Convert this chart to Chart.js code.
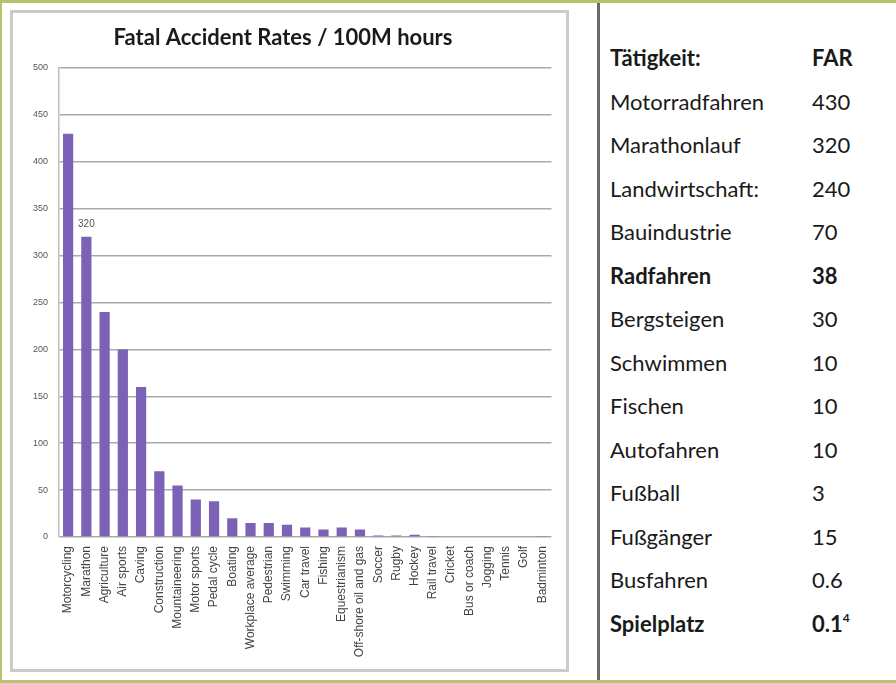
<!DOCTYPE html>
<html>
<head>
<meta charset="utf-8">
<script src="https://cdn.jsdelivr.net/npm/chart.js@4"></script>
<style>
  html, body { margin: 0; padding: 0; background: #fff; }
  #page {
    position: relative; width: 896px; height: 683px; overflow: hidden;
    box-sizing: border-box; border-top: 3px solid #b4c36c; border-left: 2px solid #b4c36c; border-bottom: 3px solid #b4c36c;
  }
  #chart-box {
    position: absolute; left: 8px; top: 7px; width: 559px; height: 662px;
    box-sizing: border-box; border: 3px solid #cbcbcb; background: #fff;
  }
  #chart-box canvas { position: absolute; left: 0; top: 0; }
  #divider { position: absolute; left: 595px; top: 0; width: 3px; height: 683px; background: #6a6a6a; }
  .row { position: absolute; font-family: Lato, "Open Sans", sans-serif; font-size: 22px; color: #1a1a1a; line-height: 26px; }
  .row.bold { font-weight: bold; }
  .row sup { font-size: 12px; vertical-align: 10px; line-height: 0; }
</style>
</head>
<body>
<div id="page">
  <div id="chart-box"><canvas id="far-chart" width="553" height="656"></canvas></div>
  <div id="divider"></div>
  <div id="table"></div>
</div>
<script>
// chart data
const CATEGORIES = ['Motorcycling', 'Marathon', 'Agriculture', 'Air sports', 'Caving', 'Construction',
  'Mountaineering', 'Motor sports', 'Pedal cycle', 'Boating', 'Workplace average', 'Pedestrian',
  'Swimming', 'Car travel', 'Fishing', 'Equestrianism', 'Off-shore oil and gas', 'Soccer', 'Rugby',
  'Hockey', 'Rail travel', 'Cricket', 'Bus or coach', 'Jogging', 'Tennis', 'Golf', 'Badminton'];
const RATES = [430, 320, 240, 200, 160, 70, 55, 40, 38, 20, 15, 15, 13, 10, 8, 10, 8, 1.5, 1.5,
  2.5, 1, 0, 0, 0, 0, 0, 1];
const LABELED = [1];
const Y_MIN = 0, Y_MAX = 500, Y_STEP = 50;

// table data
const TABLE_HEAD = ['Tätigkeit:', 'FAR'];
const ACTIVITIES = ['Motorradfahren', 'Marathonlauf', 'Landwirtschaft:', 'Bauindustrie', 'Radfahren',
  'Bergsteigen', 'Schwimmen', 'Fischen', 'Autofahren', 'Fußball', 'Fußgänger', 'Busfahren', 'Spielplatz'];
const FAR_VALUES = ['430', '320', '240', '70', '38', '30', '10', '10', '10', '3', '15', '0.6', '0.1'];
const FAR_NOTES = { 12: '4' };
const BOLD_ROWS = [4, 12];

const BAR_COLOR = '#7b62b7';
const TEXT_GRAY = '#555';

// ─── value labels above selected bars ───────────────
const barLabels = {
  id: 'barLabels',
  afterDatasetsDraw(chart) {
    const { ctx } = chart;
    const meta = chart.getDatasetMeta(0);
    ctx.save();
    ctx.font = '10px "Liberation Sans", Arial, sans-serif';
    ctx.fillStyle = TEXT_GRAY;
    ctx.textAlign = 'center';
    ctx.textBaseline = 'bottom';
    LABELED.forEach(i => {
      const bar = meta.data[i];
      ctx.fillText(String(RATES[i]), bar.x, bar.y - 8);
    });
    ctx.restore();
  }
};

new Chart(document.getElementById('far-chart').getContext('2d'), {
  type: 'bar',
  data: {
    labels: CATEGORIES,
    datasets: [{
      data: RATES,
      backgroundColor: BAR_COLOR,
      borderWidth: 0,
      categoryPercentage: 1,
      barPercentage: 0.56
    }]
  },
  options: {
    responsive: false,
    devicePixelRatio: 1,
    animation: false,
    layout: { padding: { left: 0, right: 13, top: 0, bottom: 0 } },
    plugins: {
      legend: { display: false },
      tooltip: { enabled: false },
      title: {
        display: true,
        text: 'Fatal Accident Rates / 100M hours',
        color: '#1a1a1a',
        font: { family: 'Lato, "Open Sans", sans-serif', size: 22, weight: 'bold', lineHeight: 1.2 },
        padding: { top: 12, bottom: 16.6 }
      }
    },
    scales: {
      x: {
        grid: { display: false, drawTicks: false },
        border: { display: false },
        ticks: {
          autoSkip: false, maxRotation: 90, minRotation: 90, padding: 9,
          color: '#444', font: { family: '"Liberation Sans", Arial, sans-serif', size: 12 }
        },
        afterFit(scale) { scale.height = 132; }
      },
      y: {
        min: Y_MIN, max: Y_MAX,
        grid: { color: '#a9a9a9', lineWidth: 1.5, drawTicks: false },
        border: { color: '#c0c0c0', width: 1.5 },
        ticks: {
          stepSize: Y_STEP, padding: 11,
          color: TEXT_GRAY, font: { family: '"Liberation Sans", Arial, sans-serif', size: 9 }
        },
        afterFit(scale) { scale.width = 46; }
      }
    }
  },
  plugins: [barLabels]
});

// ─── right-hand table ───────────────
const ROW_TOP = 42, ROW_STEP = 43.54, COL_LABEL = 608, COL_VALUE = 810;
const rows = [[TABLE_HEAD[0], TABLE_HEAD[1], true, '']].concat(
  ACTIVITIES.map((a, i) => [a, FAR_VALUES[i], BOLD_ROWS.includes(i), FAR_NOTES[i] || ''])
);
document.getElementById('table').innerHTML = rows.map((r, i) => {
  const y = Math.round(ROW_TOP + i * ROW_STEP);
  const cls = r[2] ? 'row bold' : 'row';
  const note = r[3] ? `<sup>${r[3]}</sup>` : '';
  return `<div class="${cls}" style="left:${COL_LABEL}px;top:${y}px;">${r[0]}</div>` +
         `<div class="${cls}" style="left:${COL_VALUE}px;top:${y}px;">${r[1]}${note}</div>`;
}).join('');
</script>
</body>
</html>
